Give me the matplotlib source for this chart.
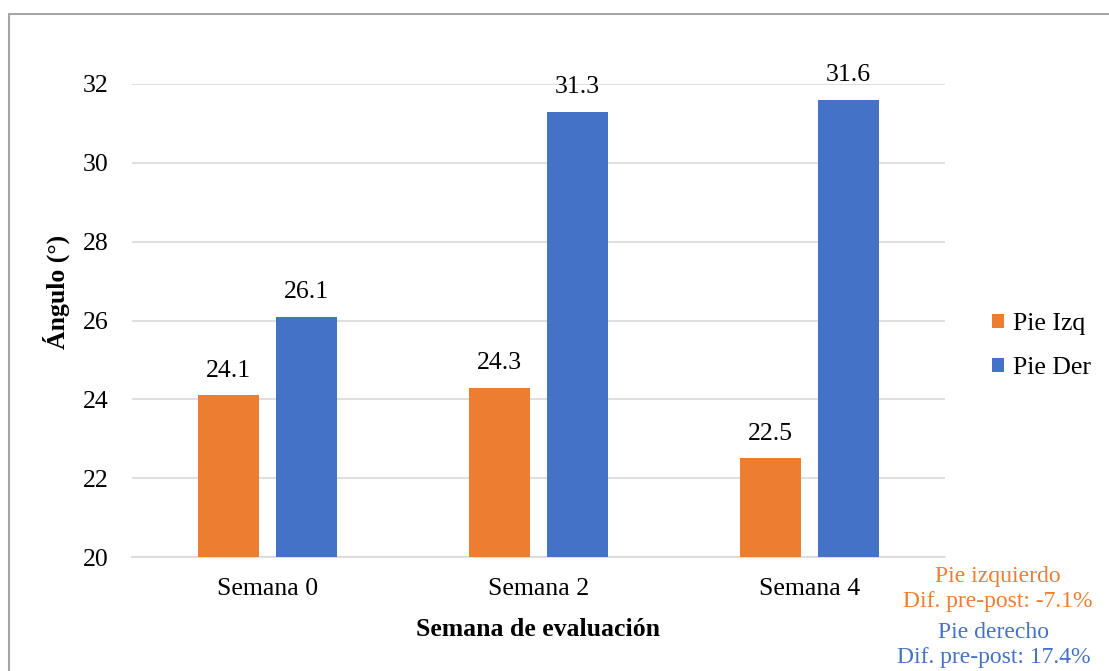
import matplotlib.pyplot as plt
import matplotlib.patches as mpatches
import numpy as np

plt.rcParams['font.family'] = ['Liberation Serif', 'DejaVu Serif']

categories = ["Semana 0", "Semana 2", "Semana 4"]
pie_izq = [24.1, 24.3, 22.5]
pie_der = [26.1, 31.3, 31.6]
series_names = ["Pie Izq", "Pie Der"]
y_ticks = [20, 22, 24, 26, 28, 30, 32]

orange = "#ED7D31"
blue = "#4472C4"
grid_c = "#D9D9D9"

W, H = 1109, 671
fig = plt.figure(figsize=(W / 100, H / 100), dpi=100)

ax_left, ax_right = 132 / W, 945 / W
ax_bottom, ax_top = 1 - 557 / H, 1 - 84 / H
ax = fig.add_axes([ax_left, ax_bottom, ax_right - ax_left, ax_top - ax_bottom])

x = np.arange(len(categories))
bw = 0.225
gap = 0.063
b1 = ax.bar(x - (bw + gap) / 2, np.array(pie_izq) - 20, bw, bottom=20,
            color=orange, label=series_names[0], zorder=3)
b2 = ax.bar(x + (bw + gap) / 2, np.array(pie_der) - 20, bw, bottom=20,
            color=blue, label=series_names[1], zorder=3)

fs = 18.5
for bars, vals in ((b1, pie_izq), (b2, pie_der)):
    for rect, v in zip(bars, vals):
        ax.annotate(f"{v:.1f}", (rect.get_x() + rect.get_width() / 2, v),
                    xytext=(0, 10), textcoords="offset points",
                    ha="center", va="bottom", fontsize=fs, color="#000000",
                    annotation_clip=False)

ax.set_xlim(-0.5, len(categories) - 0.5)
ax.set_ylim(20, 32)
ax.set_yticks(y_ticks)
ax.set_xticks(x)
ax.set_xticklabels(categories)
ax.tick_params(axis="both", length=0, labelsize=fs)
ax.tick_params(axis="y", pad=17)
ax.tick_params(axis="x", pad=15)
ax.yaxis.grid(True, color=grid_c, linewidth=1.2, zorder=0)
for s in ("top", "right", "left"):
    ax.spines[s].set_visible(False)
ax.spines["bottom"].set_color(grid_c)
ax.spines["bottom"].set_linewidth(1.2)

ax.set_xlabel("Semana de evaluación", fontsize=fs, fontweight="bold", labelpad=13)
ax.set_ylabel("Ángulo (°)", fontsize=fs, fontweight="bold")
ax.yaxis.set_label_coords((70 - 132) / 813, (557 - 292) / 473)

leg = fig.legend(handles=[b1, b2], labels=series_names, loc="center left",
                 bbox_to_anchor=(992 / W, 1 - 346 / H), frameon=False,
                 fontsize=fs, handlelength=0.45, handleheight=0.45,
                 handletextpad=0.35, labelspacing=0.85,
                 borderpad=0, borderaxespad=0)

fig.text(998 / W, 1 - 589 / H, "Pie izquierdo\nDif. pre-post: -7.1%",
         ha="center", va="center", fontsize=17, color=orange,
         multialignment="center", linespacing=1.25)
fig.text(994 / W, 1 - 645 / H, "Pie derecho\nDif. pre-post: 17.4%",
         ha="center", va="center", fontsize=17, color=blue,
         multialignment="center", linespacing=1.25)

# chart frame, open to the right and bottom edges
frame = mpatches.Rectangle((9 / W, -0.1), 1.2, (1 - 14 / H) + 0.1,
                           transform=fig.transFigure, fill=False,
                           edgecolor="#A6A6A6", linewidth=1.5, zorder=0)
fig.patches.append(frame)

fig.savefig("out.png", dpi=100)
